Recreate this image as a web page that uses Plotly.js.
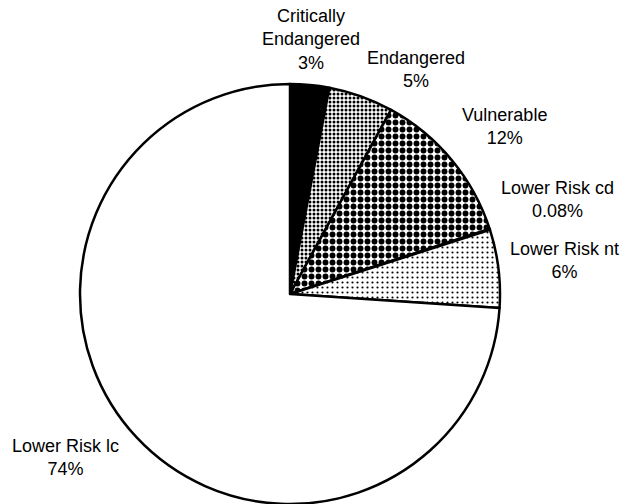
<!DOCTYPE html>
<html>
<head>
<meta charset="utf-8">
<script src="https://cdn.plot.ly/plotly-3.0.1.min.js"></script>
<style>html,body{margin:0;padding:0;background:#fff;}#chart{width:626px;height:504px;}</style>
</head>
<body>
<div id="chart"></div>
<script>
// Data
var categories = ["Critically Endangered", "Endangered", "Vulnerable", "Lower Risk cd", "Lower Risk nt", "Lower Risk lc"];
var labelLines = ["Critically<br>Endangered", "Endangered", "Vulnerable", "Lower Risk cd", "Lower Risk nt", "Lower Risk lc"];
var values = [3, 5, 12, 0.08, 6, 74];
var percentLabels = ["3%", "5%", "12%", "0.08%", "6%", "74%"];

// Styles
var fillColors = ["#000000", "#ffffff", "#ffffff", "#ffffff", "#ffffff", "#ffffff"];
var patternShapes = ["", ".", ".", "", ".", ""];
var patternSizes = [4, 4, 7, 4, 5, 4];
var patternSolidity = [0.3, 0.45, 0.55, 0.3, 0.15, 0.3];

// label anchor positions in pixels (centre x, centre y of text block)
var labelPos = [[311, 40], [416, 70], [504, 126], [557, 200], [564, 260], [65, 457]];

var W = 626, H = 504;
var annotations = categories.map(function (c, i) {
  return {
    xref: "paper", yref: "paper",
    x: labelPos[i][0] / W, y: 1 - labelPos[i][1] / H,
    xanchor: "center", yanchor: "middle",
    text: labelLines[i] + "<br>" + percentLabels[i],
    showarrow: false,
    align: "center",
    font: {family: "Liberation Sans, Arial, sans-serif", size: 18, color: "#000"}
  };
});

var trace = {
  type: "pie",
  labels: categories,
  values: values,
  sort: false,
  direction: "clockwise",
  rotation: 0,
  textinfo: "none",
  hoverinfo: "none",
  showlegend: false,
  domain: {x: [80 / W, 500 / W], y: [0, 420 / H]},
  marker: {
    colors: fillColors,
    line: {color: "#000", width: 2.5},
    pattern: {
      shape: patternShapes,
      size: patternSizes,
      solidity: patternSolidity,
      fgcolor: "#000",
      bgcolor: fillColors,
      fillmode: "replace"
    }
  }
};

var layout = {
  width: W, height: H,
  margin: {l: 0, r: 0, t: 0, b: 0},
  paper_bgcolor: "#fff",
  plot_bgcolor: "#fff",
  showlegend: false,
  annotations: annotations
};

Plotly.newPlot("chart", [trace], layout, {displayModeBar: false, staticPlot: true});
</script>
</body>
</html>
